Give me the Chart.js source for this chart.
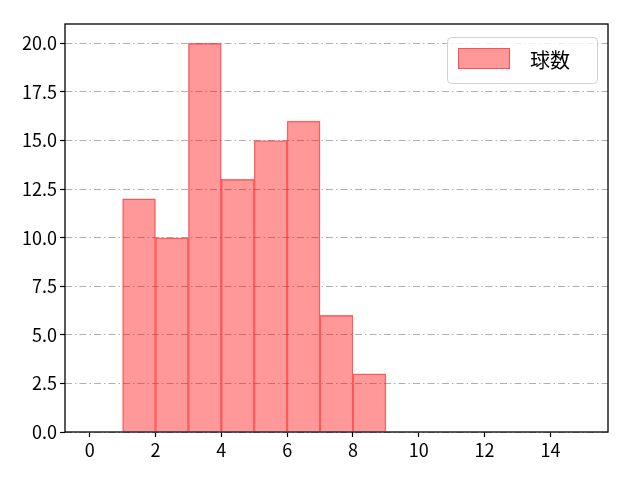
<!DOCTYPE html>
<html lang="ja">
<head>
    <meta charset="UTF-8">
    <title>球数</title>
    <script src="https://cdn.jsdelivr.net/npm/chart.js"></script>
    <style>
        body {
            margin: 0;
            background: #ffffff;
        }
        #chart {
            display: block;
        }
    </style>
</head>
<body>
    <canvas id="chart" width="640" height="480"></canvas>

    <script>
        // histogram bins (left edges, width 1) and counts
        const binStarts = [1, 2, 3, 4, 5, 6, 7, 8];
        const counts = [12, 10, 20, 13, 15, 16, 6, 3];
        const seriesLabel = '球数';
        const xTicks = [0, 2, 4, 6, 8, 10, 12, 14];
        const yTicks = [0, 2.5, 5, 7.5, 10, 12.5, 15, 17.5, 20];

        const FONT = '"Noto Sans CJK JP", "Noto Sans", sans-serif';

        // frame around the plot area, like matplotlib's spines
        const frame = {
            id: 'frame',
            afterDraw(chart) {
                const { ctx, chartArea: a } = chart;
                ctx.save();
                ctx.strokeStyle = '#000000';
                ctx.lineWidth = 1.3;
                ctx.strokeRect(a.left, a.top, a.right - a.left, a.bottom - a.top);
                ctx.restore();
            }
        };

        // legend box inside the axes, top right
        const innerLegend = {
            id: 'innerLegend',
            afterDraw(chart) {
                const { ctx, chartArea: a } = chart;
                const ds = chart.data.datasets[0];
                const w = 150, h = 46;
                const x = a.right - 11 - w, y = a.top + 13;
                ctx.save();
                ctx.fillStyle = 'rgba(255,255,255,0.8)';
                ctx.strokeStyle = '#d0d0d0';
                ctx.lineWidth = 1;
                ctx.beginPath();
                ctx.roundRect(x + 0.5, y + 0.5, w, h, 4);
                ctx.fill();
                ctx.stroke();
                ctx.fillStyle = ds.backgroundColor;
                ctx.fillRect(x + 11, y + 11, 52, 21);
                ctx.strokeStyle = ds.borderColor;
                ctx.strokeRect(x + 11.5, y + 11.5, 51, 20);
                ctx.fillStyle = '#000000';
                ctx.font = '20px ' + FONT;
                ctx.textBaseline = 'middle';
                ctx.fillText(ds.label, x + 83, y + 23);
                ctx.restore();
            }
        };

        const ctx = document.getElementById('chart').getContext('2d');

        new Chart(ctx, {
            type: 'bar',
            data: {
                datasets: [{
                    label: seriesLabel,
                    data: binStarts.map((b, i) => ({ x: b + 0.5, y: counts[i] })),
                    backgroundColor: 'rgba(255, 0, 0, 0.4)',
                    borderColor: 'rgba(255, 30, 30, 0.6)',
                    borderWidth: 0.7,
                    barPercentage: 1,
                    categoryPercentage: 1,
                    grouped: false
                }]
            },
            options: {
                responsive: false,
                animation: false,
                layout: {
                    padding: { left: 0, top: 24, right: 32, bottom: 0 }
                },
                scales: {
                    x: {
                        type: 'linear',
                        offset: false,
                        min: -0.75,
                        max: 15.75,
                        afterBuildTicks: (scale) => {
                            scale.ticks = xTicks.map(v => ({ value: v }));
                        },
                        afterFit: (scale) => { scale.height = 48; },
                        grid: {
                            offset: false,
                            drawOnChartArea: false,
                            drawTicks: true,
                            tickLength: 5,
                            tickColor: '#000000',
                            tickWidth: 1.2
                        },
                        border: { display: false },
                        ticks: {
                            color: '#000000',
                            font: { family: FONT, size: 18 },
                            padding: 2,
                            maxRotation: 0,
                            autoSkip: false
                        }
                    },
                    y: {
                        min: 0,
                        max: 21,
                        afterBuildTicks: (scale) => {
                            scale.ticks = yTicks.map(v => ({ value: v }));
                        },
                        afterFit: (scale) => { scale.width = 65; },
                        grid: {
                            color: '#b0b0b0',
                            lineWidth: 1,
                            drawTicks: true,
                            tickLength: 5,
                            tickColor: '#000000',
                            tickWidth: 1.2,
                            tickBorderDash: []
                        },
                        border: { display: false, dash: [7, 3, 1.5, 3] },
                        ticks: {
                            color: '#000000',
                            font: { family: FONT, size: 18 },
                            padding: 3,
                            callback: (v) => v.toFixed(1)
                        }
                    }
                },
                plugins: {
                    legend: { display: false },
                    tooltip: { enabled: false }
                }
            },
            plugins: [frame, innerLegend]
        });
    </script>
</body>
</html>
